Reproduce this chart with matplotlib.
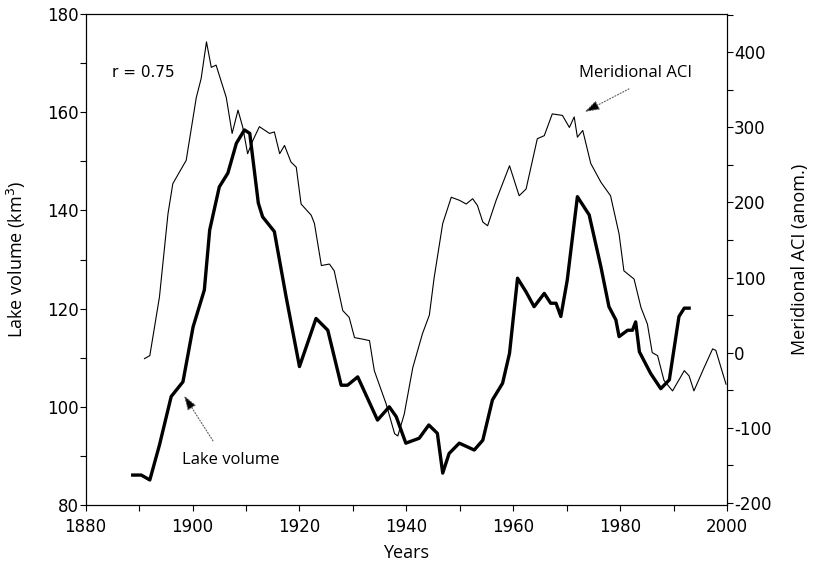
import matplotlib
matplotlib.use('Agg')
import matplotlib.pyplot as plt
from matplotlib.ticker import MultipleLocator

plt.rcParams['axes.unicode_minus'] = False

# lake volume (km3), left axis
lake_years = [1888.8, 1890.4, 1892.0, 1893.8, 1896.0, 1898.2, 1900.1, 1902.2, 1903.2, 1905.0,
              1906.6, 1908.2, 1909.7, 1910.7, 1912.3, 1913.1, 1915.3, 1917.5, 1920.0, 1923.1,
              1925.3, 1927.8, 1929.0, 1930.9, 1934.6, 1936.8, 1938.1, 1939.9, 1942.4, 1944.2,
              1945.8, 1946.8, 1948.0, 1949.9, 1952.7, 1954.3, 1956.1, 1958.0, 1959.3, 1960.8,
              1962.4, 1963.9, 1965.8, 1967.0, 1968.0, 1968.9, 1970.1, 1972.0, 1974.2, 1976.4,
              1977.9, 1979.2, 1979.8, 1981.4, 1982.3, 1982.9, 1983.6, 1985.7, 1987.6, 1989.2,
              1991.0, 1992.0, 1992.9]
lake_volume = [86.1, 86.1, 85.1, 92.2, 102.1, 105.1, 116.3, 123.8, 136.0, 144.8,
               147.6, 153.7, 156.4, 155.7, 141.5, 138.7, 135.7, 122.4, 108.2, 118.0,
               115.6, 104.4, 104.4, 106.1, 97.3, 100.0, 98.0, 92.6, 93.6, 96.3,
               94.6, 86.5, 90.5, 92.6, 91.2, 93.2, 101.4, 104.8, 110.9, 126.2,
               123.4, 120.4, 123.1, 121.1, 121.1, 118.4, 125.8, 142.8, 139.1, 128.5,
               120.4, 117.7, 114.3, 115.6, 115.6, 117.3, 111.2, 106.8, 103.7, 105.5,
               118.4, 120.1, 120.1]

# meridional ACI (anomaly), right axis
aci_years = [1891.0, 1892.0, 1893.8, 1895.4, 1896.3, 1897.9, 1898.8, 1900.7, 1901.6, 1902.6,
             1903.5, 1904.4, 1906.3, 1907.4, 1908.5, 1909.4, 1910.3, 1911.3, 1912.5, 1914.4,
             1915.3, 1916.3, 1917.2, 1918.4, 1919.4, 1920.3, 1922.2, 1922.8, 1924.1, 1925.6,
             1926.5, 1928.1, 1929.3, 1930.3, 1931.8, 1933.1, 1934.0, 1936.2, 1937.8, 1938.4,
             1939.6, 1941.2, 1943.0, 1944.3, 1945.2, 1946.8, 1948.4, 1949.9, 1951.2, 1952.4,
             1953.3, 1954.3, 1955.2, 1956.8, 1959.3, 1961.1, 1962.4, 1964.5, 1965.8, 1967.3,
             1969.2, 1970.5, 1971.4, 1972.0, 1973.0, 1974.5, 1976.4, 1978.2, 1979.8, 1980.7,
             1982.6, 1983.9, 1985.1, 1986.0, 1987.0, 1988.2, 1989.8, 1992.0, 1992.9, 1993.8,
             1995.7, 1997.3, 1997.9, 1999.8]
aci_anom = [-8, -4, 74, 185, 225, 245, 256, 340, 365, 414,
            380, 383, 340, 292, 323, 300, 265, 283, 301, 292,
            294, 265, 276, 254, 247, 198, 183, 172, 116, 118,
            109, 56, 47, 20, 18, 16, -24, -68, -108, -111,
            -82, -20, 25, 50, 100, 172, 207, 203, 198, 205,
            196, 174, 169, 203, 249, 209, 218, 285, 289, 318,
            316, 300, 314, 287, 296, 252, 227, 209, 158, 109,
            98, 60, 38, 0, -4, -37, -51, -24, -31, -51,
            -20, 5, 3, -42]

label_font = 'Open Sans'

fig = plt.figure(figsize=(8.16, 5.63), dpi=100)
ax = fig.add_axes([0.105, 0.103, 0.786, 0.872])
ax2 = ax.twinx()

ax.plot(lake_years, lake_volume, color='black', lw=2.4, solid_joinstyle='round')
ax2.plot(aci_years, aci_anom, color='black', lw=0.8)

ax.set_xlim(1880, 2000)
ax.set_ylim(80, 180)
ax2.set_ylim(-203, 451)

ax.xaxis.set_major_locator(MultipleLocator(20))
ax.xaxis.set_minor_locator(MultipleLocator(10))
ax.yaxis.set_major_locator(MultipleLocator(20))
ax.yaxis.set_minor_locator(MultipleLocator(10))
ax2.yaxis.set_major_locator(MultipleLocator(100))
ax2.yaxis.set_minor_locator(MultipleLocator(50))

for a in (ax, ax2):
    a.tick_params(which='both', direction='out', length=4, width=0.8, labelsize=12)
    for s in a.spines.values():
        s.set_linewidth(0.8)
ax.tick_params(axis='y', pad=1)
ax.tick_params(axis='x', pad=5)
ax2.tick_params(axis='y', pad=1)

ax.set_xlabel('Years', fontsize=13, family=label_font, labelpad=6)
ax.set_ylabel('Lake volume (km$^3$)', fontsize=13, family=label_font, labelpad=14)
ax2.set_ylabel('Meridional ACI (anom.)', fontsize=13, family=label_font, labelpad=14)

ax.text(1885.0, 168.2, 'r = 0.75', fontsize=11, va='center', ha='left')

# annotations with dotted arrows
ax.text(1907.2, 89.2, 'Lake volume', fontsize=12, family=label_font, ha='center', va='center')
ax.annotate('', xy=(1898.1, 102.8), xytext=(1904.1, 92.6),
            arrowprops=dict(arrowstyle='-|>,head_length=0.9,head_width=0.3', ls=':',
                            lw=0.8, color='0.35', fc='black'))
ax2.text(1982.8, 373, 'Meridional ACI', fontsize=12, family=label_font, ha='center', va='center')
ax2.annotate('', xy=(1972.9, 319), xytext=(1982.1, 353),
             arrowprops=dict(arrowstyle='-|>,head_length=0.9,head_width=0.3', ls=':',
                             lw=0.8, color='0.35', fc='black'))

fig.savefig('out.png', dpi=100)
